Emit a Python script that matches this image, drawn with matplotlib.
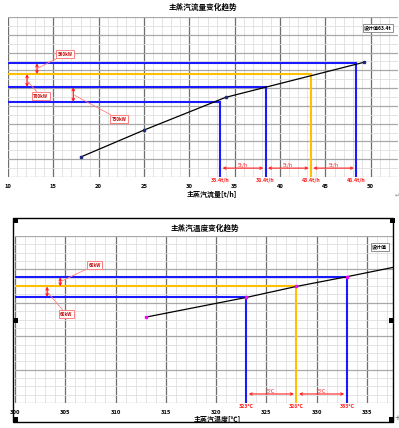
import matplotlib
matplotlib.use("Agg")
import matplotlib.pyplot as plt
from matplotlib.patches import Rectangle
from matplotlib.ticker import MultipleLocator

plt.rcParams["font.family"] = ["Noto Sans CJK SC", "DejaVu Sans"]

W, H = 399, 428

# %%
## Data - top chart (main steam flow)
flow_x = [18, 25, 34, 49.3]
flow_y = [1.12, 2.64, 4.48, 6.46]
flow_marks = [33.4, 38.4, 43.4, 48.4]
flow_levels = [4.21, 5.06, 5.79, 6.40]
flow_colors = ["#1a1aff", "#1a1aff", "#ffc000", "#1a1aff"]
flow_mark_labels = ["33.4t/h", "38.4t/h", "43.4t/h", "48.4t/h"]
flow_gap_label = "5t/h"
flow_ticks = [10, 15, 20, 25, 30, 35, 40, 45, 50]
flow_notes = ["560kW", "700kW", "750kW"]
flow_note_x = [13.2, 12.1, 17.2]
flow_note_pos = [(16.3, 6.91), (13.6, 4.55), (22.2, 3.26)]

## Data - bottom chart (main steam temperature)
temp_x = [313, 323, 328, 333, 337.6]
temp_y = [2.57, 3.16, 3.49, 3.78, 4.06]
temp_marks = [323, 328, 333]
temp_levels = [3.17, 3.49, 3.77]
temp_colors = ["#1a1aff", "#ffc000", "#1a1aff"]
temp_mark_labels = ["323°C", "328°C", "333°C"]
temp_gap_label = "5°C"
temp_ticks = [300, 305, 310, 315, 320, 325, 330, 335]
temp_notes = ["60kW", "60kW"]
temp_note_x = [304.5, 303.2]
temp_note_pos = [(307.9, 4.12), (305.1, 2.66)]

RED = "#ff2020"


def px_axes(l, t, r, b):
    return fig.add_axes([l / W, 1 - b / H, (r - l) / W, (b - t) / H])


def fx(px):
    return px / W


def fy(py):
    return 1 - py / H


def style_grid(ax, xminor, yminor):
    ax.xaxis.set_major_locator(MultipleLocator(5))
    ax.xaxis.set_minor_locator(MultipleLocator(xminor))
    ax.yaxis.set_major_locator(MultipleLocator(1))
    ax.yaxis.set_minor_locator(MultipleLocator(yminor))
    ax.grid(which="minor", color="#dedede", lw=0.6)
    ax.xaxis.grid(which="major", color="#6e6e6e", lw=0.9)
    ax.yaxis.grid(which="major", color="#a8a8a8", lw=0.9)
    ax.set_axisbelow(True)
    ax.tick_params(which="both", length=0)
    ax.tick_params(axis="x", labelsize=4.2, pad=5)
    ax.set_yticklabels([])
    for s in ax.spines.values():
        s.set_visible(False)
    for lab in ax.get_xticklabels():
        lab.set_fontweight("bold")


def draw_chart(ax, xs, ys, marks, levels, colors, mark_labels, gap_label,
               notes, note_x, note_pos, arrow_y):
    x0 = ax.get_xlim()[0]
    for m, lv, c in zip(marks, levels, colors):
        ax.plot([x0, m], [lv, lv], color=c, lw=1.5, zorder=3)
        ax.plot([m, m], [0, lv], color=c, lw=1.5, zorder=3)
    ax.plot(xs, ys, color="black", lw=0.9, zorder=4)
    for m, lab in zip(marks, mark_labels):
        ax.annotate(lab, xy=(m, 0), xycoords=("data", "axes fraction"),
                    xytext=(0, -4), textcoords="offset pixels", ha="center",
                    va="center", fontsize=3.8, color=RED, fontweight="bold")
    for a, b in zip(marks[:-1], marks[1:]):
        ax.annotate("", xy=(a + 0.25, arrow_y), xytext=(b - 0.25, arrow_y),
                    arrowprops=dict(arrowstyle="<->", color=RED, lw=0.8,
                                    mutation_scale=4, shrinkA=0, shrinkB=0),
                    zorder=5)
        ax.text((a + b) / 2, arrow_y, gap_label, ha="center", va="bottom",
                fontsize=3.8, color=RED,
                bbox=dict(boxstyle="square,pad=0.2", fc="none", ec="none"))
    ordered = sorted(levels, reverse=True)
    for i, (txt, nx) in enumerate(zip(notes, note_x)):
        hi, lo = ordered[i], ordered[i + 1]
        ax.annotate("", xy=(nx, lo), xytext=(nx, hi),
                    arrowprops=dict(arrowstyle="<->", color=RED, lw=0.9,
                                    mutation_scale=4, shrinkA=0, shrinkB=0),
                    zorder=6)
        tx, ty = note_pos[i]
        ax.annotate(txt, xy=(nx, (lo + hi) / 2), xytext=(tx, ty),
                    ha="center", va="center", fontsize=3.2, color="#c00000",
                    fontweight="bold", zorder=7,
                    bbox=dict(boxstyle="square,pad=0.35", fc="white",
                              ec="#ff8080", lw=0.7),
                    arrowprops=dict(arrowstyle="-", color="#ff8080", lw=0.6,
                                    shrinkA=0, shrinkB=1))


fig = plt.figure(figsize=(W / 100, H / 100), dpi=100)

# %%
## Top chart
ax1 = px_axes(8, 17, 398, 177)
ax1.set_xlim(10, 53)
ax1.set_ylim(0, 9)
ax1.set_xticks(flow_ticks)
style_grid(ax1, 1, 0.5)
draw_chart(ax1, flow_x, flow_y, flow_marks, flow_levels, flow_colors,
           flow_mark_labels, flow_gap_label, flow_notes, flow_note_x,
           flow_note_pos, 0.5)
ax1.plot(flow_x, flow_y, "s", color="#1f2a80", ms=1.6, zorder=5)

fig.text(fx(203), fy(7), "主蒸汽流量变化趋势", ha="center", va="center",
         fontsize=5.5, fontweight="bold")
fig.text(fx(212), fy(194), "主蒸汽流量[t/h]", ha="center", va="center",
         fontsize=5, fontweight="bold")
fig.text(fx(364), fy(28), "设计值63.4t", ha="left", va="center", fontsize=3.6,
         fontweight="bold",
         bbox=dict(boxstyle="square,pad=0.3", fc="white", ec="#808080", lw=0.6))

# %%
## Bottom chart
ax2 = px_axes(15, 236, 393, 403)
ax2.set_xlim(300, 337.6)
ax2.set_ylim(0, 5)
ax2.set_xticks(temp_ticks)
style_grid(ax2, 1, 0.25)
draw_chart(ax2, temp_x, temp_y, temp_marks, temp_levels, temp_colors,
           temp_mark_labels, temp_gap_label, temp_notes, temp_note_x,
           temp_note_pos, 0.27)
ax2.plot(temp_x[:-1], temp_y[:-1], "s", color="#ff00ff", ms=1.5, zorder=5)

fig.text(fx(205), fy(228), "主蒸汽温度变化趋势", ha="center", va="center",
         fontsize=5.5, fontweight="bold")
fig.text(fx(217), fy(419), "主蒸汽温度[℃]", ha="center", va="center",
         fontsize=5, fontweight="bold")
fig.text(fx(372), fy(247), "设计值", ha="left", va="center", fontsize=3.6,
         fontweight="bold",
         bbox=dict(boxstyle="square,pad=0.3", fc="white", ec="#808080", lw=0.6))

# picture frame with selection handles
fig.patches.append(Rectangle((fx(13), fy(422)), (393 - 13) / W, (422 - 218) / H,
                             transform=fig.transFigure, fill=False, ec="black",
                             lw=1.0))
for hx, hy in [(13, 218), (390, 218), (13, 318), (389, 318), (13, 417), (389, 417)]:
    fig.patches.append(Rectangle((fx(hx), fy(hy + 5)), 5 / W, 5 / H,
                                 transform=fig.transFigure, fc="black",
                                 ec="none"))
fig.text(fx(397), fy(196), "↵", ha="center", va="center", fontsize=4,
         color="#888888", family="DejaVu Sans")
fig.text(fx(397), fy(418), "+", ha="center", va="center", fontsize=5,
         color="#555555", family="DejaVu Sans")

fig.savefig("out.png", dpi=100)
